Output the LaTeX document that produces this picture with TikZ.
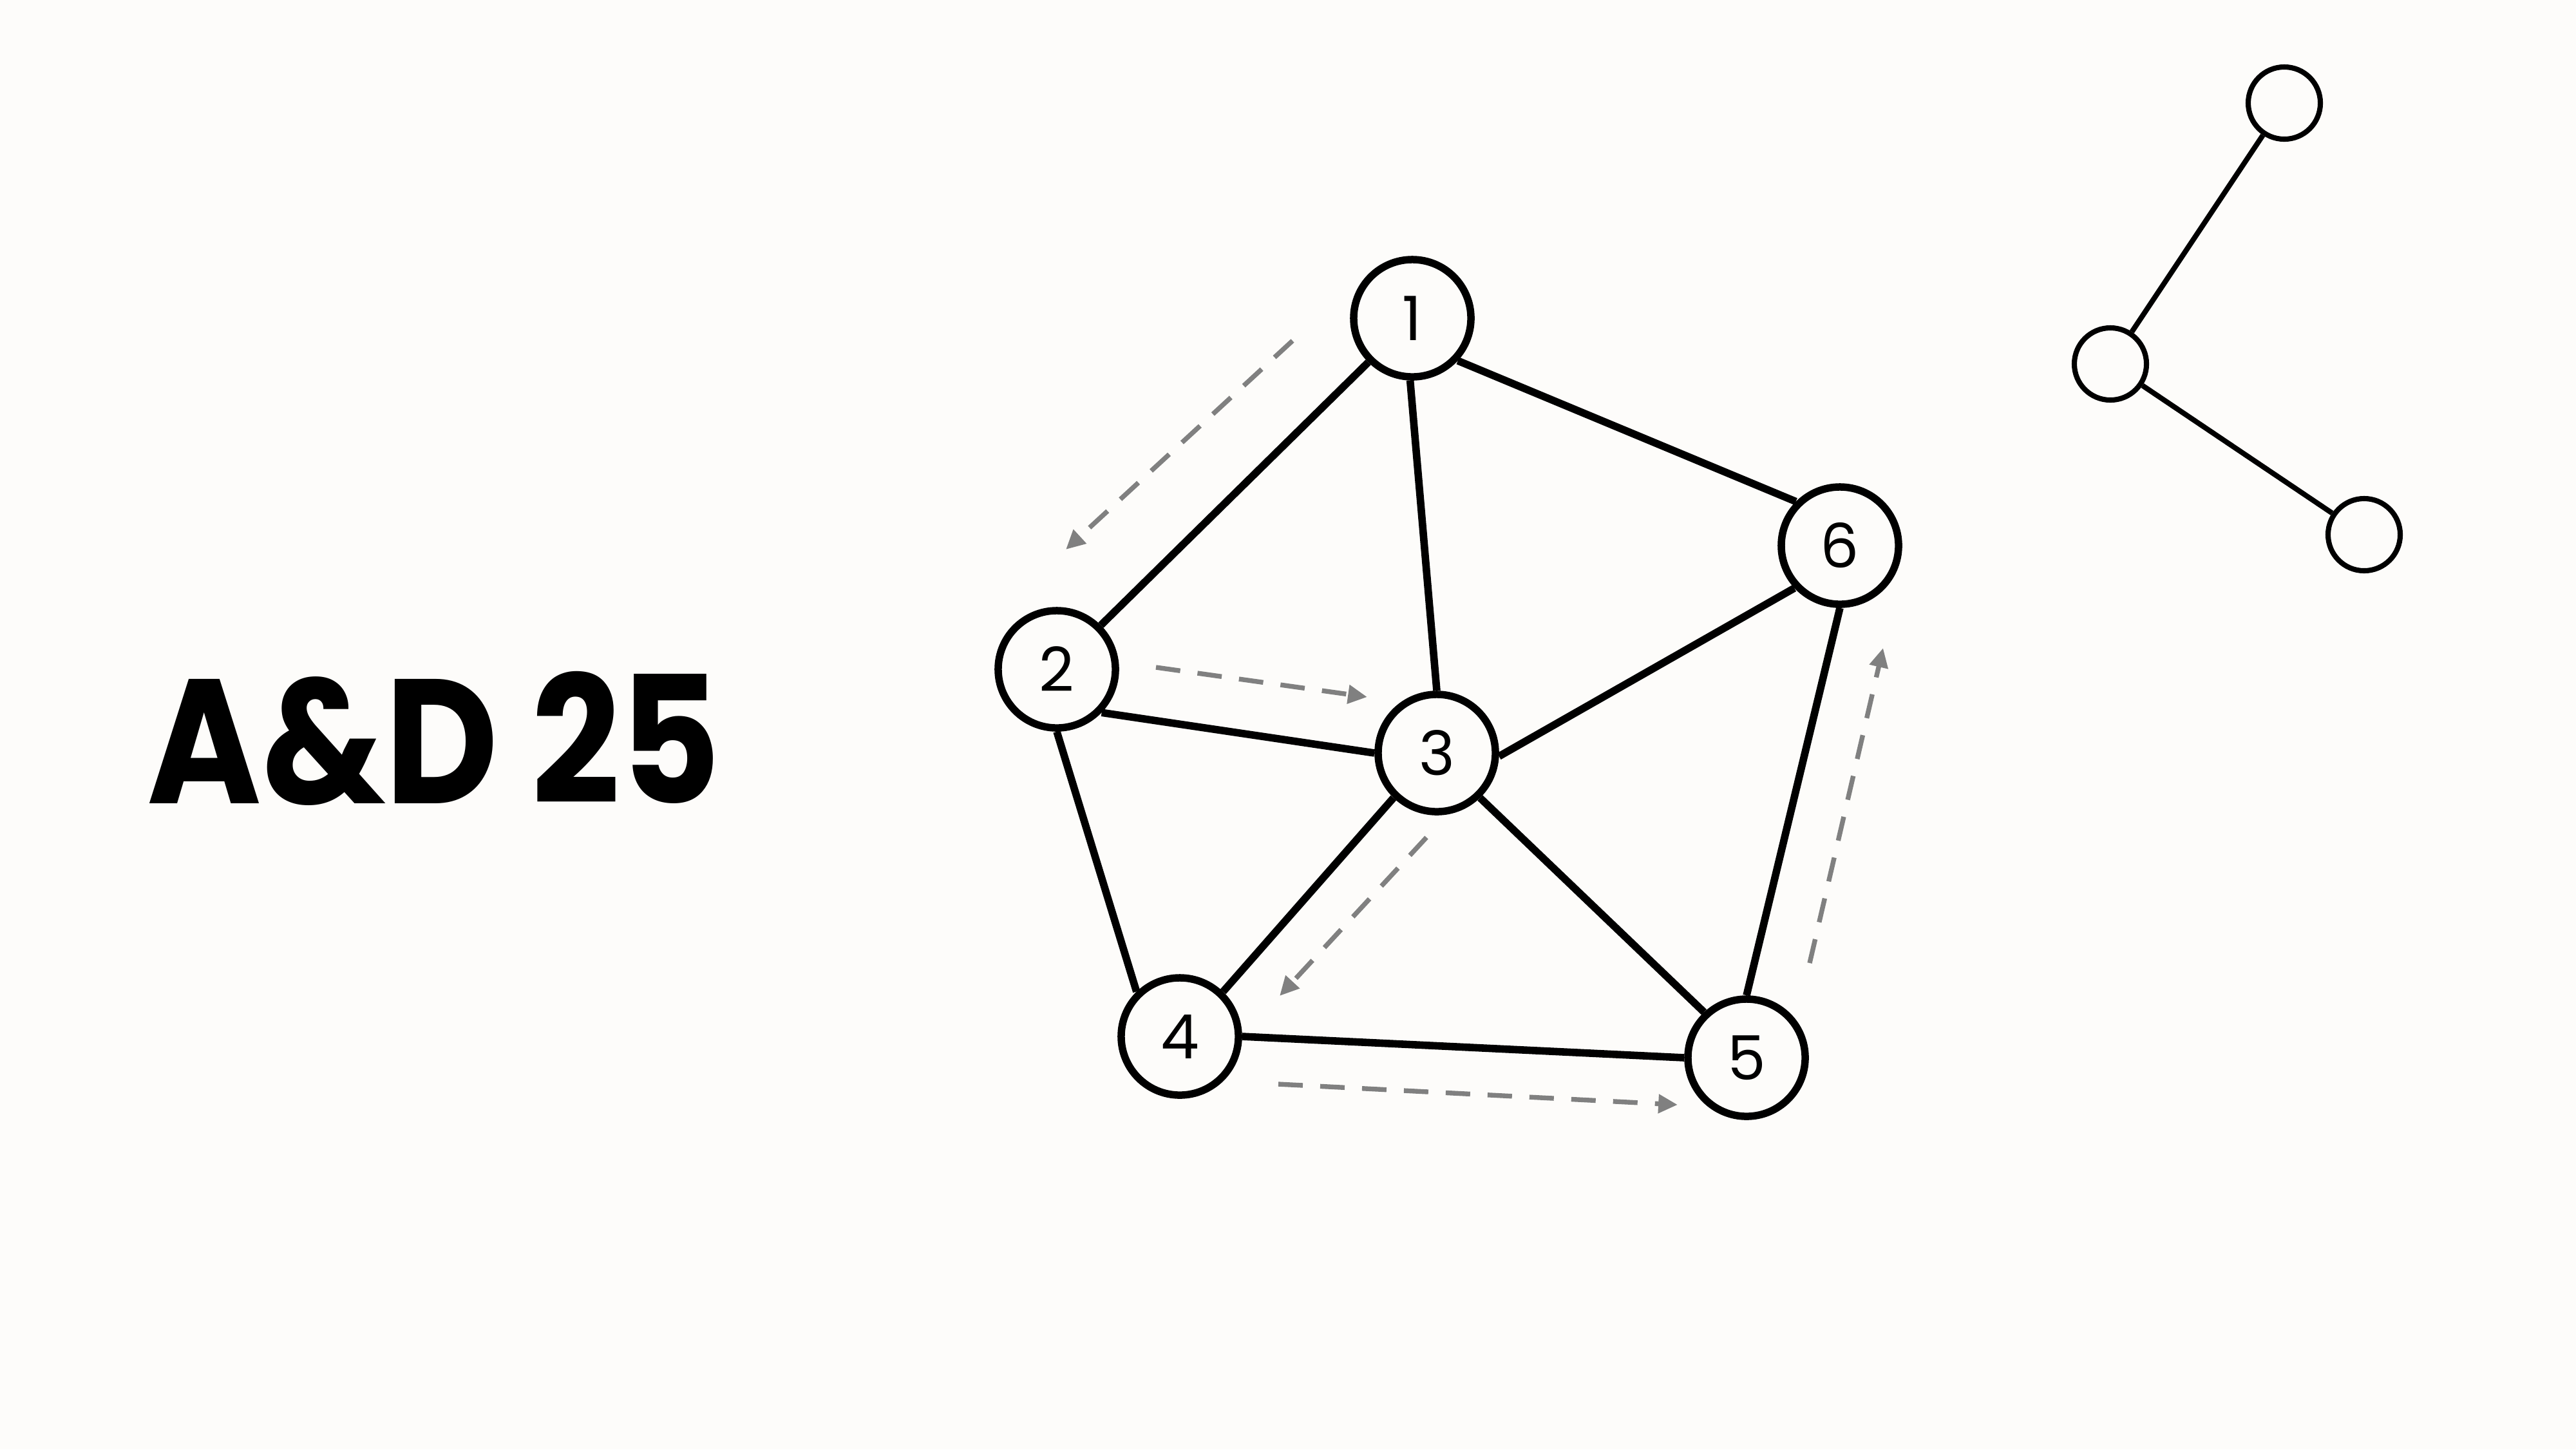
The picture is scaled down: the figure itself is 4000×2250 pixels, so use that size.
\documentclass[tikz,border=0pt]{standalone}
\usepackage{fontspec}
\setmainfont{Poppins}
\usetikzlibrary{arrows.meta}
\definecolor{bg}{RGB}{253,252,250}
\definecolor{arr}{RGB}{128,128,128}
\begin{document}
\begin{tikzpicture}[x=0.01cm,y=-0.01cm,
  gnode/.style={circle,draw=black,fill=bg,line width=3.27pt,minimum size=1.82cm,inner sep=0pt,font=\fontsize{27}{30}\selectfont},
  snode/.style={circle,draw=black,fill=bg,line width=2.3pt,minimum size=1.12cm,inner sep=0pt},
  gedge/.style={line width=3.3pt},
  sedge/.style={line width=2.3pt},
  walk/.style={draw=arr,line width=2.1pt,dash pattern=on 10.8pt off 7.7pt,-{Triangle[length=8.5pt,width=8pt,fill=arr]}}
]
\fill[bg] (0,0) rectangle (4000,2250);
\useasboundingbox (0,0) rectangle (4000,2250);

\node[inner sep=0pt] (title) at (674,1146) {\resizebox{8.9cm}{2.05cm}{\bfseries A\&D 25}};

\node[gnode] (n1) at (2193,494) {1};
\node[gnode] (n2) at (1641,1039) {2};
\node[gnode] (n3) at (2231,1169) {3};
\node[gnode] (n4) at (1832,1609) {4};
\node[gnode] (n5) at (2712,1642) {5};
\node[gnode] (n6) at (2857,847) {6};

\node[snode] (s1) at (3547,160) {};
\node[snode] (s2) at (3277,565) {};
\node[snode] (s3) at (3671,830) {};

\draw[gedge] (n1.225) -- (n2.45);
\draw[gedge] (n1.268) -- (n3.90);
\draw[gedge] (n1.317) -- (n6.135);
\draw[gedge] (n2.316) -- (n3.180);
\draw[gedge] (n2.270) -- (n4.134);
\draw[gedge] (n3.226) -- (n4.46);
\draw[gedge] (n3.314) -- (n5.133);
\draw[gedge] (n3.-3) -- (n6.223);
\draw[gedge] (n4.0) -- (n5.180);
\draw[gedge] (n5.90) -- (n6.270);

\draw[sedge] (s1) -- (s2);
\draw[sedge] (s2) -- (s3);

\coordinate (a1) at (2007,529);
\coordinate (a2) at (1655,853);
\coordinate (b1) at (1795,1036);
\coordinate (b2) at (2123,1082);
\coordinate (c1) at (2215,1300);
\coordinate (c2) at (1987,1546);
\coordinate (d1) at (1985,1683);
\coordinate (d2) at (2605,1715);
\coordinate (e1) at (2810,1495);
\coordinate (e2) at (2924,1006);

\draw[walk] (a1) -- (a2);
\draw[walk] (b1) -- (b2);
\draw[walk] (c1) -- (c2);
\draw[walk] (d1) -- (d2);
\draw[walk] (e1) -- (e2);
\end{tikzpicture}
\end{document}
